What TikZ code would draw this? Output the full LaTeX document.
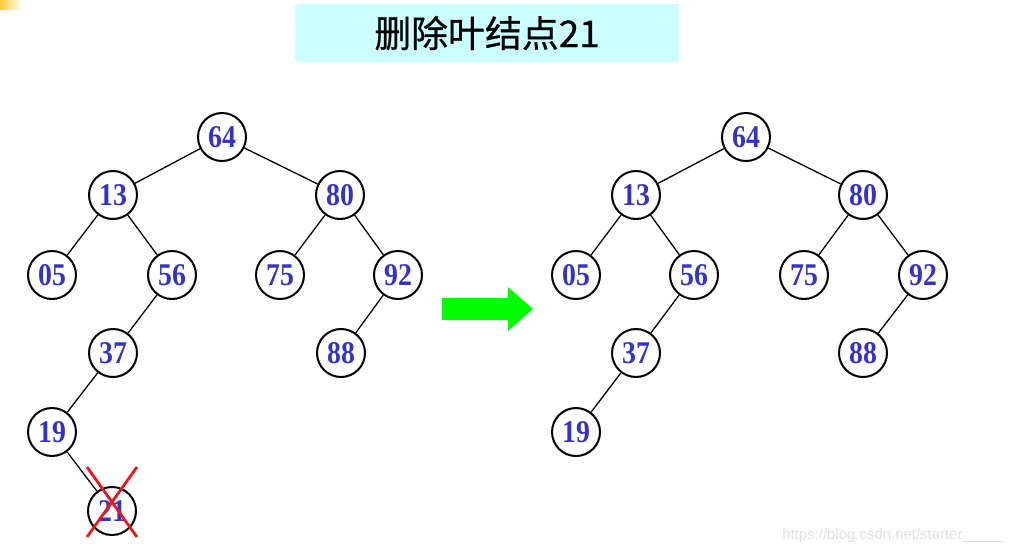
\documentclass[tikz,border=0pt]{standalone}
\usepackage{fontspec}
\usepackage{tikz}
\usetikzlibrary{calc,positioning}
\usepackage{xcolor}
\newfontfamily\cjkfont{Noto Sans CJK SC}[FakeBold=0.6]
\newfontfamily\numfont{Liberation Serif}[FakeStretch=0.88]
\setsansfont{Liberation Sans}
\definecolor{myblue}{RGB}{51,51,204}
\definecolor{mycyan}{RGB}{204,255,255}
\definecolor{mygreen}{RGB}{0,255,0}
\definecolor{myred}{RGB}{240,20,20}
\definecolor{myyellow}{RGB}{255,204,51}

\begin{document}
\begin{tikzpicture}[x=0.02cm,y=-0.02cm,
  keynode/.style={draw, circle, line width=0.04cm, minimum size=0.96cm, inner sep=0pt,
    text=myblue, font=\numfont\bfseries\fontsize{18pt}{20pt}\selectfont},
  link/.style={line width=0.026cm}]
  \useasboundingbox (0,0) rectangle (1024,555);

  % corner mark and title
  \shade[left color=myyellow, right color=white] (0,0) rectangle (22,9);
  \node[fill=mycyan, minimum width=7.7cm, minimum height=1.18cm, inner sep=0pt,
    font=\cjkfont\fontsize{21pt}{24pt}\selectfont] (title) at (487,33) {删除叶结点21};

  % left tree
  \node[keynode] (l64) at (222,137) {64};
  \node[keynode] (l13) at (113,195) {13};
  \node[keynode] (l80) at (340,195) {80};
  \node[keynode] (l05) at (52,275) {05};
  \node[keynode] (l56) at (172,275) {56};
  \node[keynode] (l75) at (280,275) {75};
  \node[keynode] (l92) at (398,275) {92};
  \node[keynode] (l37) at (113,353) {37};
  \node[keynode] (l88) at (341,353) {88};
  \node[keynode] (l19) at (52,432) {19};
  \node[keynode] (l21) at (112,511) {21};

  \draw[link] (l64) -- (l13);
  \draw[link] (l64) -- (l80);
  \draw[link] (l13) -- (l05);
  \draw[link] (l13) -- (l56);
  \draw[link] (l80) -- (l75);
  \draw[link] (l80) -- (l92);
  \draw[link] (l56) -- (l37);
  \draw[link] (l92) -- (l88);
  \draw[link] (l37) -- (l19);
  \draw[link] (l19) -- (l21);

  % cross on the deleted leaf
  \draw[myred, line width=0.055cm] ($(l21)+(-25,-44)$) -- ($(l21)+(25,26)$);
  \draw[myred, line width=0.055cm] ($(l21)+(25,-44)$) -- ($(l21)+(-25,26)$);

  % arrow
  \fill[mygreen] (442,298) -- (508,298) -- (508,287) -- (533,309) -- (508,331)
    -- (508,320) -- (442,320) -- cycle;

  % right tree
  \node[keynode] (r64) at (746,137) {64};
  \node[keynode] (r13) at (636,195) {13};
  \node[keynode] (r80) at (863,195) {80};
  \node[keynode] (r05) at (576,275) {05};
  \node[keynode] (r56) at (694,275) {56};
  \node[keynode] (r75) at (804,275) {75};
  \node[keynode] (r92) at (923,275) {92};
  \node[keynode] (r37) at (636,353) {37};
  \node[keynode] (r88) at (863,353) {88};
  \node[keynode] (r19) at (576,432) {19};

  \draw[link] (r64) -- (r13);
  \draw[link] (r64) -- (r80);
  \draw[link] (r13) -- (r05);
  \draw[link] (r13) -- (r56);
  \draw[link] (r80) -- (r75);
  \draw[link] (r80) -- (r92);
  \draw[link] (r56) -- (r37);
  \draw[link] (r92) -- (r88);
  \draw[link] (r37) -- (r19);

  % watermark
  \node[anchor=west, inner sep=0pt, text=black!12, font=\sffamily\fontsize{8.5pt}{10pt}\selectfont]
    (mark) at (782,536) {https://blog.csdn.net/starter\_\_\_\_\_};
\end{tikzpicture}
\end{document}
